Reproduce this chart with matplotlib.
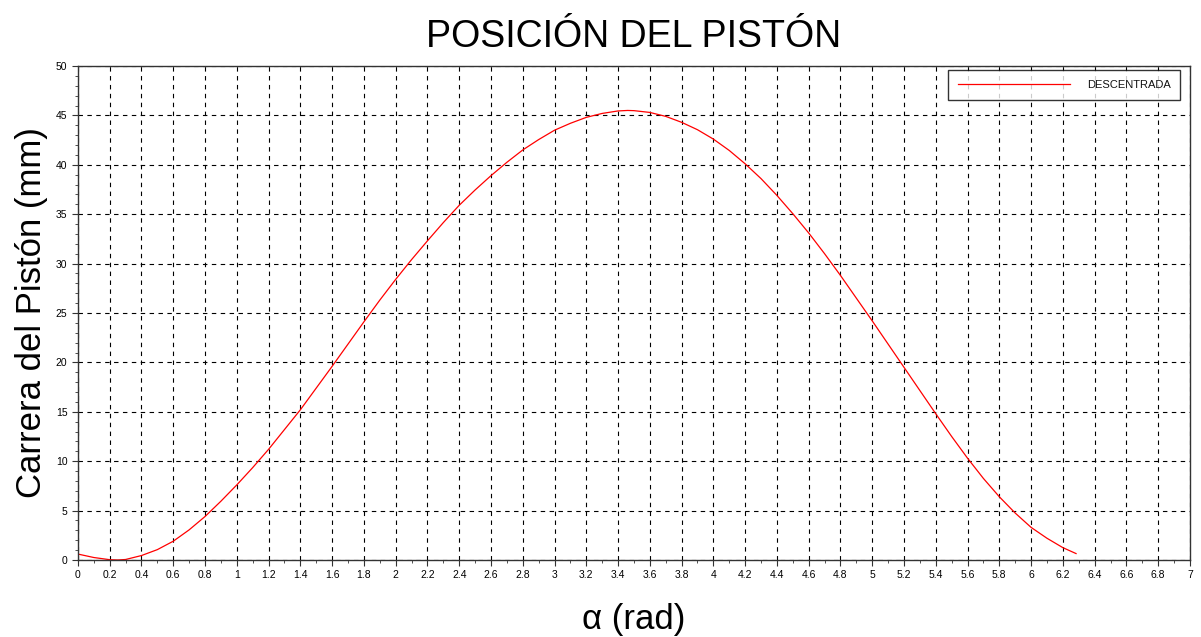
import matplotlib
matplotlib.use("Agg")
import matplotlib.pyplot as plt
import numpy as np
from matplotlib.ticker import MultipleLocator

plt.rcParams['font.family'] = ['Liberation Sans', 'DejaVu Sans']

alpha = [0.0, 0.1, 0.2, 0.25, 0.3, 0.4, 0.5, 0.6, 0.7, 0.8, 0.9, 1.0, 1.1, 1.2, 1.3, 1.4, 1.5,
         1.6, 1.7, 1.8, 1.9, 2.0, 2.1, 2.2, 2.3, 2.4, 2.5, 2.6, 2.7, 2.8, 2.9, 3.0, 3.1,
         3.2, 3.3, 3.4, 3.46, 3.5, 3.6, 3.7, 3.8, 3.9, 4.0, 4.1, 4.2, 4.3, 4.4, 4.5, 4.6,
         4.7, 4.8, 4.9, 5.0, 5.1, 5.2, 5.3, 5.4, 5.5, 5.6, 5.7, 5.8, 5.9, 6.0, 6.1, 6.2, 6.283]
carrera = [0.6, 0.25, 0.03, 0.0, 0.05, 0.45, 1.05, 1.9, 3.05, 4.4, 5.95, 7.6, 9.35, 11.2, 13.2, 15.2, 17.4,
           19.6, 21.85, 24.1, 26.3, 28.4, 30.4, 32.3, 34.15, 35.9, 37.45, 38.9, 40.25, 41.5, 42.55, 43.5, 44.2,
           44.8, 45.2, 45.45, 45.5, 45.48, 45.3, 44.9, 44.3, 43.55, 42.6, 41.45, 40.1, 38.6, 36.9, 35.05, 33.1,
           31.0, 28.8, 26.5, 24.2, 21.85, 19.5, 17.15, 14.8, 12.5, 10.3, 8.25, 6.4, 4.75, 3.3, 2.2, 1.25, 0.65]

fig = plt.figure(figsize=(12.01, 6.37), dpi=100)
ax = fig.add_axes([0.0649, 0.1209, 0.9259, 0.7755])

ax.plot(alpha, carrera, color='#ff0000', linewidth=0.9, label='DESCENTRADA')

ax.set_xlim(0, 7)
ax.set_ylim(0, 50)
ax.xaxis.set_major_locator(MultipleLocator(0.2))
ax.xaxis.set_minor_locator(MultipleLocator(0.1))
ax.yaxis.set_major_locator(MultipleLocator(5))
ax.yaxis.set_minor_locator(MultipleLocator(1))
ax.set_xticklabels([f"{v:g}" for v in np.round(ax.get_xticks(), 1)])
ax.grid(True, which='major', color='black', linestyle=(0, (4, 4)), linewidth=0.8)
ax.tick_params(which='both', direction='out', labelsize=7.5, color='#333333')
ax.tick_params(which='major', length=4)
ax.tick_params(which='minor', length=2.5)
for s in ax.spines.values():
    s.set_color('#333333')
    s.set_linewidth(1.0)

ax.set_title('POSICIÓN DEL PISTÓN', fontsize=27, pad=14)
ax.set_xlabel('α (rad)', fontsize=25, labelpad=16)
ax.set_ylabel('Carrera del Pistón (mm)', fontsize=25, labelpad=6)

leg = ax.legend(loc='upper right', bbox_to_anchor=(0.9915, 0.992), borderaxespad=0,
                prop={'size': 8}, frameon=True, fancybox=False,
                edgecolor='black', handlelength=10.1,
                borderpad=0.9, handletextpad=1.5)
leg.get_frame().set_linewidth(1.0)
for t in leg.get_texts():
    t.set_color('#111111')

fig.savefig('out.png', dpi=100)
